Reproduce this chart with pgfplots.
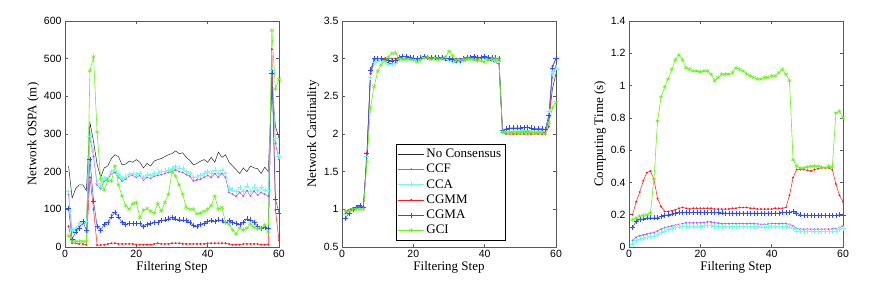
\documentclass[border=0pt]{standalone}
\usepackage{fontspec}
\setmainfont{Liberation Serif}
\newfontfamily\ticksf{Liberation Sans}
\usepackage{pgfplots}
\usepackage{pgfplotstable}
\pgfplotsset{compat=1.18}
\definecolor{cNC}{RGB}{40,40,40}
\definecolor{cCCF}{RGB}{185,80,255}
\definecolor{cCCA}{RGB}{110,255,230}
\definecolor{cCGMM}{RGB}{255,25,25}
\definecolor{cCGMA}{RGB}{45,75,255}
\definecolor{cGCI}{RGB}{105,240,30}
\definecolor{frame}{RGB}{90,90,90}

\pgfplotstableread{
x nc ccf cca cgmm cgma gci
1 215 140 148 55 102 30
2 130 40 45 10 20 15
3 155 45 50 10 40 15
4 165 55 62 8 50 15
5 165 60 65 8 68 15
6 150 65 68 6 45 15
7 330 290 295 185 232 468
8 280 240 255 100 122 505
9 220 165 170 5 55 305
10 185 155 162 5 45 180
11 210 175 182 6 60 152
12 215 180 185 8 65 175
13 235 195 200 10 80 175
14 245 198 205 10 92 215
15 240 185 192 8 80 165
16 218 175 182 8 65 135
17 220 180 186 8 60 110
18 228 188 193 8 62 100
19 225 190 195 8 62 115
20 232 185 192 6 62 118
21 225 190 196 6 62 78
22 210 178 185 6 55 98
23 222 185 192 6 60 102
24 215 182 190 6 62 95
25 228 188 195 8 65 90
26 232 190 197 10 65 115
27 235 192 200 8 70 95
28 240 195 202 8 72 118
29 245 198 205 8 75 140
30 248 200 208 10 78 200
31 255 205 215 10 75 188
32 248 200 210 10 72 165
33 250 198 208 8 72 140
34 238 192 200 8 70 105
35 230 188 196 8 65 100
36 218 175 185 8 58 100
37 222 178 186 8 55 88
38 228 180 190 8 60 90
39 232 185 195 8 62 95
40 225 190 200 10 68 100
41 238 185 195 10 70 110
42 225 195 205 10 68 135
43 252 185 195 10 72 100
44 238 195 205 10 70 105
45 245 185 195 10 65 65
46 225 145 155 8 70 60
47 215 140 152 6 65 45
48 205 135 148 6 62 35
49 195 145 158 6 60 50
50 210 135 148 8 65 45
51 200 150 162 8 75 50
52 215 135 148 8 72 62
53 210 148 160 8 65 52
54 208 138 150 8 55 48
55 195 145 158 6 50 50
56 212 140 152 6 52 58
57 200 135 150 6 50 40
58 430 470 470 525 462 575
59 320 275 290 98 128 420
60 290 232 240 18 90 445
}\ospa

\pgfplotstableread{
x nc ccf cca cgmm cgma gci
1 0.97 0.95 0.93 0.95 0.88 0.98
2 1.00 0.98 0.97 0.98 0.95 0.98
3 1.02 1.01 1.00 1.01 1.00 1.00
4 1.03 1.02 1.02 1.02 1.03 1.00
5 1.03 1.03 1.03 1.03 1.05 1.00
6 1.03 1.03 1.03 1.03 1.03 1.00
7 1.72 1.73 1.70 1.75 1.75 1.63
8 2.80 2.80 2.75 2.80 2.85 2.35
9 2.95 2.98 2.95 3.00 3.00 2.63
10 2.97 3.00 2.97 3.00 3.00 2.83
11 2.98 3.00 2.98 3.00 3.00 2.92
12 2.97 3.00 2.96 3.00 2.99 2.97
13 2.94 2.98 2.93 3.00 2.98 3.02
14 2.93 2.97 2.92 3.00 2.97 3.07
15 2.94 2.98 2.94 3.00 2.98 3.08
16 2.98 3.00 2.99 3.00 3.02 3.00
17 3.00 3.00 3.00 3.00 3.03 2.99
18 3.00 3.01 3.01 3.00 3.03 2.99
19 2.99 3.00 3.00 3.00 3.02 2.99
20 2.99 3.00 3.00 3.00 3.01 2.98
21 2.97 2.99 2.98 3.00 3.00 2.96
22 2.99 3.00 3.00 3.00 3.01 2.98
23 3.01 3.02 3.02 3.01 3.03 3.01
24 3.00 3.01 3.01 3.00 3.02 3.02
25 2.99 3.00 3.00 3.00 3.01 2.99
26 3.00 3.01 3.01 3.01 3.02 3.01
27 2.99 3.00 3.00 3.00 3.01 2.99
28 3.00 3.01 3.01 3.00 3.02 3.00
29 2.98 2.99 2.99 3.00 3.00 3.02
30 2.97 2.98 2.98 3.00 3.00 3.10
31 2.96 2.97 2.96 3.00 2.99 3.04
32 2.95 2.96 2.96 3.00 2.98 2.98
33 2.95 2.96 2.95 3.00 2.98 2.98
34 2.96 2.98 2.97 3.00 3.00 2.99
35 2.99 3.00 3.00 3.00 3.02 3.00
36 3.00 3.01 3.01 3.00 3.02 2.99
37 3.00 3.01 3.01 3.00 3.03 2.98
38 2.99 3.00 3.00 3.00 3.02 2.97
39 3.00 3.01 3.01 3.01 3.02 2.97
40 3.00 3.00 3.01 3.01 3.03 2.96
41 2.99 3.00 3.00 3.01 3.02 2.98
42 2.97 2.99 2.99 3.01 3.01 3.00
43 2.95 2.98 2.98 3.00 3.01 2.99
44 2.93 2.97 2.97 3.00 3.00 2.99
45 2.02 2.03 2.03 2.02 2.05 2.03
46 2.02 2.03 2.03 2.00 2.07 2.02
47 2.02 2.03 2.04 2.00 2.08 2.02
48 2.02 2.03 2.04 2.00 2.08 2.02
49 2.02 2.03 2.04 2.00 2.08 2.02
50 2.03 2.04 2.04 2.00 2.08 2.02
51 2.03 2.04 2.05 2.00 2.09 2.02
52 2.03 2.04 2.05 2.00 2.09 2.02
53 2.02 2.03 2.04 2.00 2.08 2.02
54 2.02 2.03 2.04 2.00 2.07 2.02
55 2.02 2.03 2.04 2.00 2.07 2.02
56 2.02 2.03 2.04 2.00 2.07 2.02
57 2.02 2.03 2.04 2.00 2.06 2.00
58 2.20 2.25 2.30 2.10 2.25 2.15
59 2.60 2.75 2.80 2.90 2.88 2.35
60 2.80 2.90 2.88 3.00 3.00 2.42
}\card

\pgfplotstableread{
x ccf cca cgmm cgma gci
1 0.04 0.02 0.20 0.12 0.17
2 0.06 0.04 0.28 0.16 0.18
3 0.07 0.05 0.34 0.17 0.19
4 0.075 0.055 0.41 0.175 0.195
5 0.08 0.06 0.46 0.18 0.20
6 0.085 0.065 0.47 0.18 0.21
7 0.09 0.07 0.42 0.18 0.42
8 0.10 0.08 0.30 0.18 0.78
9 0.11 0.09 0.25 0.19 0.93
10 0.12 0.10 0.22 0.195 0.99
11 0.125 0.11 0.22 0.20 1.04
12 0.13 0.115 0.225 0.205 1.10
13 0.135 0.12 0.23 0.21 1.16
14 0.14 0.125 0.24 0.215 1.19
15 0.145 0.13 0.245 0.215 1.16
16 0.15 0.13 0.24 0.215 1.11
17 0.15 0.13 0.235 0.215 1.10
18 0.15 0.13 0.24 0.215 1.09
19 0.15 0.13 0.24 0.215 1.09
20 0.15 0.13 0.24 0.215 1.085
21 0.152 0.132 0.24 0.215 1.09
22 0.155 0.135 0.24 0.215 1.09
23 0.155 0.135 0.24 0.215 1.07
24 0.15 0.13 0.235 0.215 1.03
25 0.148 0.128 0.235 0.213 1.05
26 0.145 0.127 0.235 0.212 1.07
27 0.145 0.127 0.235 0.21 1.07
28 0.145 0.127 0.235 0.21 1.07
29 0.145 0.128 0.24 0.21 1.08
30 0.145 0.13 0.24 0.21 1.11
31 0.145 0.13 0.245 0.21 1.10
32 0.145 0.13 0.245 0.21 1.09
33 0.145 0.13 0.245 0.21 1.07
34 0.145 0.13 0.24 0.21 1.06
35 0.145 0.13 0.24 0.21 1.05
36 0.143 0.128 0.235 0.21 1.04
37 0.14 0.125 0.235 0.21 1.04
38 0.14 0.125 0.235 0.21 1.05
39 0.142 0.127 0.235 0.21 1.05
40 0.145 0.13 0.235 0.21 1.06
41 0.145 0.13 0.24 0.21 1.06
42 0.145 0.13 0.24 0.21 1.08
43 0.145 0.13 0.24 0.215 1.10
44 0.145 0.13 0.245 0.215 1.07
45 0.14 0.125 0.32 0.215 1.03
46 0.13 0.115 0.43 0.22 0.54
47 0.115 0.10 0.48 0.21 0.50
48 0.11 0.095 0.48 0.20 0.49
49 0.11 0.095 0.48 0.195 0.49
50 0.11 0.095 0.475 0.195 0.495
51 0.11 0.095 0.47 0.195 0.50
52 0.11 0.095 0.48 0.195 0.50
53 0.11 0.095 0.485 0.195 0.50
54 0.11 0.095 0.49 0.195 0.495
55 0.11 0.095 0.49 0.195 0.49
56 0.11 0.095 0.49 0.195 0.50
57 0.112 0.097 0.48 0.195 0.495
58 0.115 0.10 0.39 0.195 0.83
59 0.12 0.11 0.32 0.20 0.84
60 0.13 0.115 0.28 0.20 0.80
}\ctime

\pgfplotsset{
  panel/.style={
    scale only axis, width=214pt, height=226pt,
    xmin=0, xmax=60, xtick={0,20,40,60},
    axis line style={frame, line width=0.6pt},
    tick style={frame, line width=0.5pt},
    major tick length=3pt,
    tick align=inside,
    /pgf/number format/assume math mode=true,
    tick label style={font=\ticksf\fontsize{10.5}{12}\selectfont},
    label style={font=\fontsize{13}{15}\selectfont},
    xlabel={Filtering Step},
    xlabel style={yshift=3pt},
    ylabel style={yshift=-2pt},
    clip=false,
  },
  sNC/.style={color=cNC, line width=0.5pt, mark=none},
  sCCF/.style={color=cCCF, line width=0.5pt, mark=*, mark size=0.7pt},
  sCCA/.style={color=cCCA, line width=0.5pt, mark=+, mark size=2.5pt, mark options={line width=0.4pt}},
  sCGMM/.style={color=cCGMM, line width=0.5pt, mark=*, mark size=0.7pt},
  sCGMA/.style={color=cCGMA, line width=0.5pt, mark=+, mark size=2.5pt, mark options={line width=0.4pt}},
  sGCI/.style={color=cGCI, line width=0.6pt, mark=asterisk, mark size=2.3pt, mark options={line width=0.5pt}},
}

\begin{document}
\begin{tikzpicture}
\useasboundingbox (0,0) rectangle (872pt,284pt);

\begin{axis}[panel, at={(65pt,37pt)}, anchor=south west,
  ymin=0, ymax=600, ytick={0,100,...,600},
  ylabel={Network OSPA (m)}]
\addplot[sNC] table[x=x,y=nc] {\ospa};
\addplot[sCCF] table[x=x,y=ccf] {\ospa};
\addplot[sCCA] table[x=x,y=cca] {\ospa};
\addplot[sCGMM] table[x=x,y=cgmm] {\ospa};
\addplot[sCGMA] table[x=x,y=cgma] {\ospa};
\addplot[sGCI] table[x=x,y=gci] {\ospa};
\end{axis}

\begin{axis}[panel, at={(342pt,37pt)}, anchor=south west,
  ymin=0.5, ymax=3.5, ytick={0.5,1,...,3.5},
  yticklabels={0.5,1,1.5,2,2.5,3,3.5},
  ylabel={Network Cardinality},
  legend style={at={(0.252,0.03)}, anchor=south west, draw=black, line width=0.5pt,
    fill=white, font=\fontsize{13}{15}\selectfont, row sep=1.2pt,
    inner xsep=2pt, inner ysep=2.5pt},
  legend cell align=left,
  legend image code/.code={\draw[mark repeat=2,mark phase=2] plot coordinates {(0cm,0cm) (0.45cm,0cm) (0.9cm,0cm)};}]
\addplot[sNC] table[x=x,y=nc] {\card};
\addplot[sCCF] table[x=x,y=ccf] {\card};
\addplot[sCCA] table[x=x,y=cca] {\card};
\addplot[sCGMM] table[x=x,y=cgmm] {\card};
\addplot[sCGMA] table[x=x,y=cgma] {\card};
\addplot[sGCI] table[x=x,y=gci] {\card};
\legend{No Consensus,CCF,CCA,CGMM,CGMA,GCI}
\end{axis}

\begin{axis}[panel, at={(629pt,37pt)}, anchor=south west,
  ymin=0, ymax=1.4, ytick={0,0.2,...,1.4},
  yticklabels={0,0.2,0.4,0.6,0.8,1,1.2,1.4},
  ylabel={Computing Time (s)}]
\addplot[sCCF] table[x=x,y=ccf] {\ctime};
\addplot[sCCA] table[x=x,y=cca] {\ctime};
\addplot[sCGMM] table[x=x,y=cgmm] {\ctime};
\addplot[sCGMA] table[x=x,y=cgma] {\ctime};
\addplot[sGCI] table[x=x,y=gci] {\ctime};
\end{axis}
\end{tikzpicture}
\end{document}
